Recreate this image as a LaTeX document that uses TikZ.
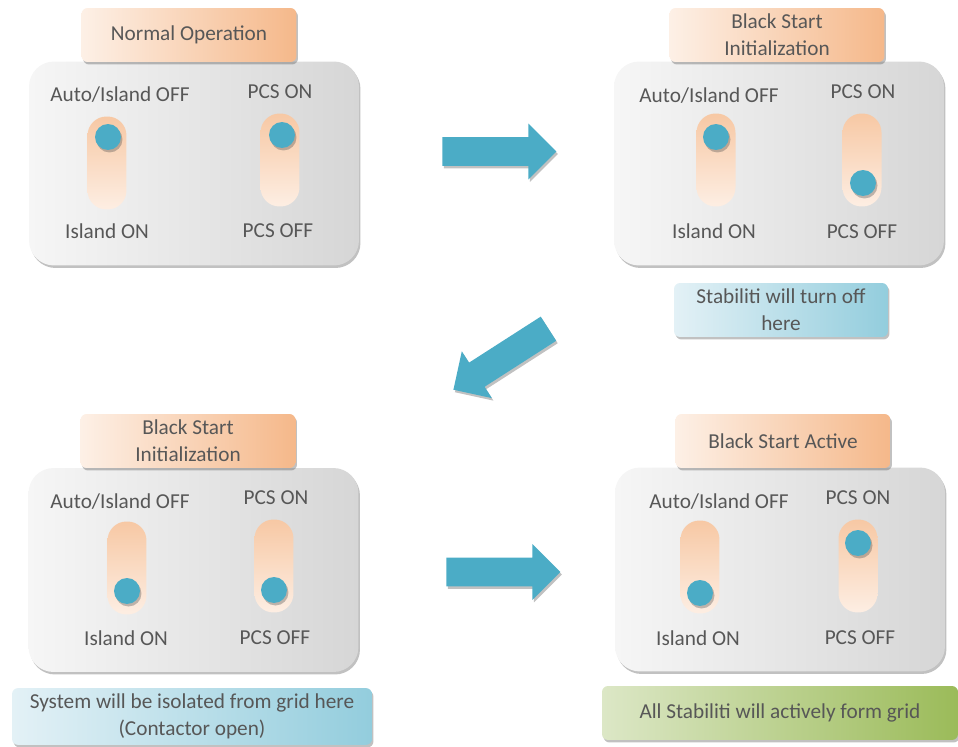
\documentclass[tikz,border=0pt]{standalone}
\usepackage{fontspec}
\setmainfont{Carlito}
\usepackage{tikz}
\usetikzlibrary{shapes.arrows, shadows}
\definecolor{txtgray}{HTML}{575757}
\definecolor{knobblue}{HTML}{4BACC6}
\definecolor{panelL}{HTML}{F6F6F6}
\definecolor{panelR}{HTML}{D6D6D6}
\definecolor{titleL}{HTML}{FDF0E6}
\definecolor{titleR}{HTML}{F5B88A}
\definecolor{swTop}{HTML}{F7C8A4}
\definecolor{swBot}{HTML}{FDEEE3}
\definecolor{noteL}{HTML}{E3F1F6}
\definecolor{noteR}{HTML}{93CDDD}
\definecolor{greenL}{HTML}{DCE7C6}
\definecolor{greenR}{HTML}{9BBB59}

\begin{document}
\begin{tikzpicture}[x=0.02cm, y=-0.02cm,
  every node/.style={text=txtgray, font=\fontsize{12.1}{15.3}\selectfont},
  softshadow/.style={drop shadow={shadow xshift=0.03cm, shadow yshift=-0.05cm, opacity=0.35, fill=black!70}},
  panel/.style={rounded corners=0.5cm, minimum width=6.6cm, minimum height=4.08cm, left color=panelL, right color=panelR, softshadow},
  title/.style={rounded corners=0.12cm, minimum width=4.3cm, minimum height=1.08cm, align=center, left color=titleL, right color=titleR, softshadow},
  switch/.style={rounded corners=0.38cm, minimum width=0.78cm, minimum height=1.86cm, top color=swTop, bottom color=swBot},
  knob/.style={circle, fill=knobblue, minimum size=0.52cm, inner sep=0pt, softshadow},
  note/.style={rounded corners=0.12cm, minimum height=1.08cm, align=center, left color=noteL, right color=noteR, softshadow},
  bigarrow/.style={single arrow, fill=knobblue, minimum height=2.28cm, inner xsep=0pt, inner ysep=0.28cm, single arrow head extend=0.27cm, softshadow}]
\useasboundingbox (0,0) rectangle (958,747);

\node (p1)[panel] at (194,163.5) {};
\node (t1)[title] at (189,35) {Normal Operation};
\node (a1)[inner sep=0pt] at (120,95) {Auto/Island OFF};
\node (b1)[inner sep=0pt] at (280,92) {PCS ON};
\node (s1a)[switch] at (107,163) {};
\node (s1b)[switch] at (280,160) {};
\node (k1a)[knob] at (108,137) {};
\node (k1b)[knob] at (282,135) {};
\node (c1)[inner sep=0pt] at (107,231) {Island ON};
\node (d1)[inner sep=0pt] at (278,231) {PCS OFF};

\node (p2)[panel] at (779,163.5) {};
\node (t2)[title] at (777,35) {Black Start\\Initialization};
\node (a2)[inner sep=0pt] at (709,96) {Auto/Island OFF};
\node (b2)[inner sep=0pt] at (863,92) {PCS ON};
\node (s2a)[switch] at (716,160) {};
\node (s2b)[switch] at (862,160) {};
\node (k2a)[knob] at (716,137) {};
\node (k2b)[knob] at (863,183) {};
\node (c2)[inner sep=0pt] at (714,231) {Island ON};
\node (d2)[inner sep=0pt] at (862,232) {PCS OFF};
\node (n2)[note, minimum width=4.28cm] at (781,310) {Stabiliti will turn off\\here};

\node (p3)[panel] at (193.5,570) {};
\node (t3)[title] at (188,441) {Black Start\\Initialization};
\node (a3)[inner sep=0pt] at (120,502) {Auto/Island OFF};
\node (b3)[inner sep=0pt] at (276,498) {PCS ON};
\node (s3a)[switch] at (127,568) {};
\node (s3b)[switch] at (274,566) {};
\node (k3a)[knob] at (127,591) {};
\node (k3b)[knob] at (274,590) {};
\node (c3)[inner sep=0pt] at (126,638) {Island ON};
\node (d3)[inner sep=0pt] at (275,638) {PCS OFF};
\node (n3)[note, minimum width=7.2cm] at (192,716.5) {System will be isolated from grid here\\(Contactor open)};

\node (p4)[panel] at (780,569.5) {};
\node (t4)[title] at (783,441) {Black Start Active};
\node (a4)[inner sep=0pt] at (719,502) {Auto/Island OFF};
\node (b4)[inner sep=0pt] at (858,498) {PCS ON};
\node (s4a)[switch] at (700,567) {};
\node (s4b)[switch] at (858,566) {};
\node (k4a)[knob] at (700,593) {};
\node (k4b)[knob] at (858,543) {};
\node (c4)[inner sep=0pt] at (698,638) {Island ON};
\node (d4)[inner sep=0pt] at (860,638) {PCS OFF};
\node (n4)[note, minimum width=7.12cm, left color=greenL, right color=greenR] at (780,713) {All Stabiliti will actively form grid};

\node (r1)[bigarrow, anchor=tail] at (442,151.5) {};
\node (r2)[bigarrow, minimum height=2.26cm, rotate=212.7, anchor=tip] at (453,390) {};
\node (r3)[bigarrow, anchor=tail] at (446,572) {};
\end{tikzpicture}
\end{document}
